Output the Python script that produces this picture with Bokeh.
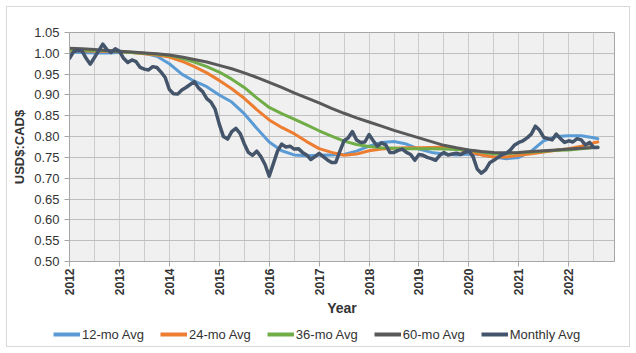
import math
from bokeh.plotting import figure
from bokeh.layouts import column
from bokeh.models import (Range1d, FixedTicker, Legend, LegendItem, NumeralTickFormatter)
from bokeh.embed import file_html
from bokeh.resources import INLINE

# ---------------- data ----------------
start_year = 2012
series_names = ["12-mo Avg", "24-mo Avg", "36-mo Avg", "60-mo Avg", "Monthly Avg"]
year_ticks = [2012, 2013, 2014, 2015, 2016, 2017, 2018, 2019, 2020, 2021, 2022]
y_ticks = [0.50, 0.55, 0.60, 0.65, 0.70, 0.75, 0.80, 0.85, 0.90, 0.95, 1.00, 1.05]

# monthly average, Jan 2012 .. Aug 2022
monthly = [
    0.988, 1.004, 1.007, 1.006, 0.988, 0.974, 0.990, 1.006, 1.022, 1.009, 1.002, 1.011,   # 2012
    1.005, 0.988, 0.978, 0.984, 0.980, 0.966, 0.962, 0.960, 0.968, 0.966, 0.955, 0.942,   # 2013
    0.913, 0.903, 0.902, 0.912, 0.918, 0.925, 0.932, 0.917, 0.908, 0.891, 0.883, 0.866,   # 2014
    0.830, 0.800, 0.794, 0.812, 0.820, 0.808, 0.783, 0.762, 0.755, 0.765, 0.752, 0.733,   # 2015
    0.705, 0.735, 0.765, 0.782, 0.775, 0.777, 0.770, 0.771, 0.762, 0.756, 0.745, 0.752,   # 2016
    0.760, 0.752, 0.744, 0.738, 0.738, 0.765, 0.790, 0.797, 0.812, 0.792, 0.786, 0.787,   # 2017
    0.805, 0.790, 0.777, 0.785, 0.780, 0.762, 0.762, 0.767, 0.770, 0.762, 0.757, 0.743,   # 2018
    0.757, 0.755, 0.750, 0.747, 0.743, 0.755, 0.762, 0.756, 0.758, 0.760, 0.757, 0.762,   # 2019
    0.765, 0.752, 0.722, 0.712, 0.720, 0.737, 0.743, 0.750, 0.757, 0.760, 0.768, 0.780,   # 2020
    0.786, 0.790, 0.797, 0.806, 0.825, 0.815, 0.798, 0.795, 0.792, 0.806, 0.795, 0.786,   # 2021
    0.790, 0.787, 0.795, 0.792, 0.780, 0.786, 0.774, 0.774,                               # 2022
]

# moving averages read every 3 months (month index from Jan 2012) plus the last month
avg_months = [0, 3, 6, 9, 12, 15, 18, 21, 24, 27, 30, 33, 36, 39, 42, 45, 48, 51, 54, 57,
              60, 63, 66, 69, 72, 75, 78, 81, 84, 87, 90, 93, 96, 99, 102, 105, 108, 111,
              114, 117, 120, 123, 126, 127]
avg12 = [1.003, 1.002, 1.001, 1.001, 1.002, 1.002, 1.000, 0.993, 0.975, 0.950, 0.933, 0.920,
         0.900, 0.883, 0.855, 0.820, 0.787, 0.766, 0.756, 0.754, 0.755, 0.756, 0.757, 0.765,
         0.777, 0.786, 0.788, 0.782, 0.770, 0.762, 0.758, 0.756, 0.758, 0.757, 0.751, 0.747,
         0.750, 0.765, 0.790, 0.800, 0.802, 0.802, 0.797, 0.795]
avg24 = [1.006, 1.006, 1.005, 1.005, 1.004, 1.002, 0.999, 0.996, 0.991, 0.981, 0.968, 0.953,
         0.935, 0.915, 0.892, 0.865, 0.840, 0.822, 0.807, 0.788, 0.771, 0.762, 0.755, 0.758,
         0.766, 0.770, 0.772, 0.773, 0.773, 0.774, 0.775, 0.771, 0.763, 0.756, 0.751, 0.751,
         0.755, 0.759, 0.763, 0.767, 0.771, 0.777, 0.785, 0.787]
avg36 = [1.008, 1.008, 1.007, 1.006, 1.004, 1.002, 1.000, 0.998, 0.995, 0.988, 0.979, 0.968,
         0.955, 0.938, 0.918, 0.893, 0.870, 0.855, 0.842, 0.828, 0.814, 0.801, 0.789, 0.781,
         0.776, 0.773, 0.772, 0.771, 0.771, 0.771, 0.770, 0.769, 0.767, 0.763, 0.759, 0.759,
         0.761, 0.763, 0.765, 0.767, 0.768, 0.771, 0.774, 0.775]
avg60 = [1.012, 1.011, 1.009, 1.007, 1.005, 1.003, 1.001, 0.999, 0.996, 0.991, 0.985, 0.979,
         0.971, 0.963, 0.953, 0.942, 0.930, 0.918, 0.905, 0.893, 0.881, 0.868, 0.856, 0.845,
         0.835, 0.825, 0.815, 0.806, 0.797, 0.788, 0.779, 0.773, 0.768, 0.764, 0.762, 0.761,
         0.762, 0.764, 0.766, 0.768, 0.770, 0.772, 0.774, 0.774]

# ---------------- styles ----------------
colors = ["#5B9BD5", "#ED7D31", "#70AD47", "#595959", "#44546A"]
widths = [3, 3, 3, 3, 3.5]
FONT = "Liberation Sans"
TXT = "#333333"

x_month = [start_year + i / 12 for i in range(len(monthly))]
x_avg = [start_year + m / 12 for m in avg_months]
x_end = start_year + 131 / 12
all_series = [avg12, avg24, avg36, avg60, monthly]
all_x = [x_avg, x_avg, x_avg, x_avg, x_month]

p = figure(width=636, height=320, output_backend="svg", toolbar_location=None,
           x_range=Range1d(start_year, x_end), y_range=Range1d(0.50, 1.05),
           min_border_left=69, min_border_right=22, min_border_top=32,
           min_border_bottom=59, background_fill_color="#F0F0F0",
           border_fill_alpha=0)
p.outline_line_color = "#A6A6A6"
p.outline_line_width = 1

for ys, xs, c, w in zip(all_series, all_x, colors, widths):
    p.line(xs, ys, line_color=c, line_width=w, line_join="round", line_cap="round")

# axes
p.yaxis.ticker = FixedTicker(ticks=y_ticks)
p.yaxis.formatter = NumeralTickFormatter(format="0.00")
p.xaxis.ticker = FixedTicker(ticks=year_ticks)
p.xaxis.major_label_orientation = math.pi / 2
for ax in (p.xaxis[0], p.yaxis[0]):
    ax.axis_line_color = "#A6A6A6"
    ax.major_tick_line_color = "#A6A6A6"
    ax.major_tick_out = 5
    ax.major_tick_in = 0
    ax.minor_tick_line_color = None
    ax.major_label_text_font = FONT
    ax.major_label_text_color = TXT
    ax.axis_label_text_font = FONT
    ax.axis_label_text_color = TXT
    ax.axis_label_text_font_style = "bold"
p.yaxis.major_label_text_font_size = "13px"
p.yaxis.major_label_standoff = 5
p.xaxis.major_label_text_font_size = "12px"
p.xaxis.major_label_text_font_style = "bold"
p.xaxis.major_label_standoff = 2
p.yaxis.axis_label = "USD$:CAD$"
p.yaxis.axis_label_text_font_size = "13px"
p.yaxis.axis_label_standoff = 4
p.xaxis.axis_label = "Year"
p.xaxis.axis_label_text_font_size = "14px"
p.xaxis.axis_label_standoff = 2

# grids
p.xgrid.ticker = FixedTicker(ticks=[start_year + 0.5 * k for k in range(22)])
p.xgrid.grid_line_color = "#CCCCCC"
p.ygrid.grid_line_color = "#BFBFBF"

# legend strip underneath (its own small figure so nothing is clipped);
# the series are drawn there out of view only so that the legend has real glyphs
lg = figure(width=636, height=33, output_backend="svg", toolbar_location=None,
            x_range=Range1d(0, 1), y_range=Range1d(0, 1),
            x_axis_location=None, y_axis_location=None,
            min_border_left=0, min_border_right=0, min_border_top=0, min_border_bottom=0,
            background_fill_alpha=0, border_fill_alpha=0)
lg.outline_line_color = None
lg.grid.visible = False
for fig in (p, lg):
    if "frame_align" in fig.properties():
        fig.frame_align = False
items = []
for n, c, ys, xs in zip(series_names, colors, all_series, all_x):
    r = lg.line(xs, ys, line_color=c, line_width=4)
    items.append(LegendItem(label=n, renderers=[r]))
legend = Legend(items=items, orientation="horizontal", location=(53, 11),
                label_text_font=FONT, label_text_font_size="13px",
                label_text_color=TXT, glyph_width=27, glyph_height=16,
                label_standoff=2, spacing=16, padding=0, margin=0,
                background_fill_alpha=0, border_line_alpha=0, label_height=16)
lg.add_layout(legend, "center")

layout = column(p, lg, spacing=0,
                styles={"background-color": "white",
                        "box-shadow": "inset 0 0 0 6px white, inset 0 0 0 7px #D9D9D9"})

open("out.html", "w").write(file_html(layout, INLINE))
